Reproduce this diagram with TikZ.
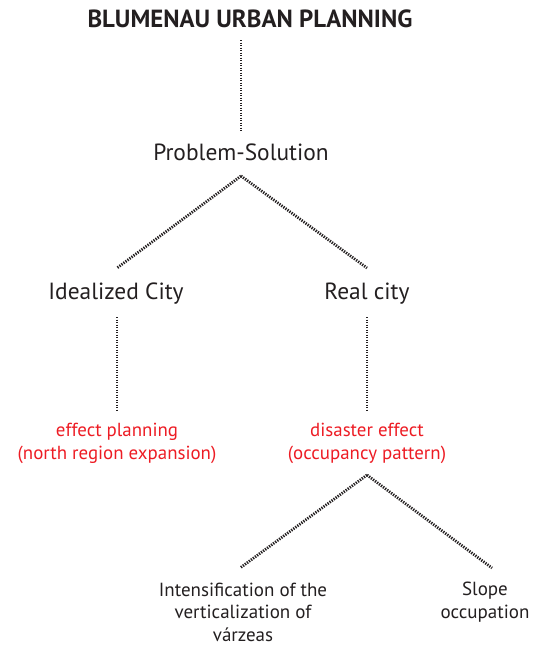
\documentclass[tikz,border=0pt]{standalone}
\usepackage{fontspec}
\setmainfont{PT Sans}
\definecolor{txt}{RGB}{35,31,32}
\definecolor{redt}{RGB}{237,28,36}
\begin{document}
\begin{tikzpicture}[x=1pt,y=-1pt,
  dots/.style={draw=txt,line width=2.8pt,dash pattern=on 1.3pt off 1.2pt},
  lbl/.style={text=txt,font=\fontsize{23.4}{28}\selectfont,inner sep=0pt,anchor=base},
  redlbl/.style={text=redt,font=\fontsize{18.9}{23}\selectfont,inner sep=0pt,align=center,anchor=base},
  small/.style={text=txt,font=\fontsize{19}{22.5}\selectfont,inner sep=0pt,align=center,anchor=base}]
\useasboundingbox (0,0) rectangle (541,646);
\node[lbl,font=\fontsize{24.8}{28}\selectfont\bfseries] (title) at (250,27) {BLUMENAU URBAN PLANNING};
\node[lbl] (ps) at (241,160) {Problem-Solution};
\node[lbl] (ic) at (116,299) {Idealized City};
\node[lbl] (rc) at (367,299) {Real city};
\node[redlbl] (ep) at (117,459) {effect planning\\(north region expansion)};
\node[redlbl] (de) at (367,459) {disaster effect\\(occupancy pattern)};
\node[small] (iv) at (243,641) {Intensification of the\\verticalization of\\várzeas};
\node[small] (so) at (485,618) {Slope\\occupation};
\coordinate (a1) at (241,40); \coordinate (a2) at (241,131);
\coordinate (p0) at (241,176); \coordinate (pl) at (117,268); \coordinate (pr) at (367,268);
\coordinate (il0) at (117,317); \coordinate (il1) at (117,410);
\coordinate (rl0) at (367,317); \coordinate (rl1) at (367,410);
\coordinate (d0) at (367,475); \coordinate (dl) at (240,568); \coordinate (dr) at (492,568);
\draw[dots] (a1) -- (a2);
\draw[dots] (p0) -- (pl);
\draw[dots] (p0) -- (pr);
\draw[dots] (il0) -- (il1);
\draw[dots] (rl0) -- (rl1);
\draw[dots] (d0) -- (dl);
\draw[dots] (d0) -- (dr);
\end{tikzpicture}
\end{document}
